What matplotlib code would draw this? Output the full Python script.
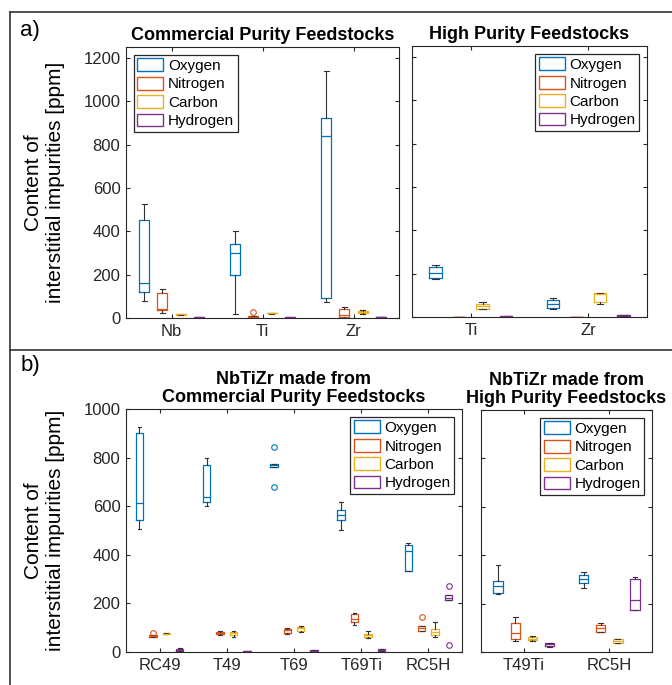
import numpy as np
import matplotlib
matplotlib.use("Agg")
import matplotlib.pyplot as plt
from matplotlib.patches import Patch
from matplotlib.lines import Line2D

plt.rcParams["font.family"] = ["Liberation Sans", "DejaVu Sans"]

# ----------------
# data (ppm) : each box is [whisker low, q1, median, q3, whisker high]
# ----------------
elements = ["Oxygen", "Nitrogen", "Carbon", "Hydrogen"]
colors = ["#0072BD", "#D95319", "#EDB120", "#7E2F8E"]

# a) feedstocks, commercial purity
comm_groups = ["Nb", "Ti", "Zr"]
comm_oxygen = [[80, 118, 161, 452, 526], [18, 198, 298, 341, 403], [75, 91, 840, 921, 1138]]
comm_nitrogen = [[22, 37, 41, 114, 134], [0, 1, 5, 9, 9], [2, 3, 14, 42, 49]]
comm_carbon = [[14, 15, 17, 18, 19], [20, 21, 23, 24, 25], [20, 22, 28, 34, 37]]
comm_hydrogen = [[1, 2, 3, 4, 4], [1, 2, 3, 4, 4], [2, 3, 4, 5, 5]]
comm_fliers = [[[], [], []], [[], [26], []], [[], [], []], [[], [], []]]

# a) feedstocks, high purity
high_groups = ["Ti", "Zr"]
high_oxygen = [[175, 181, 205, 231, 241], [37, 43, 62, 80, 88]]
high_nitrogen = [[0, 0, 1, 1, 2], [0, 0, 1, 1, 2]]
high_carbon = [[38, 38, 51, 62, 71], [58, 71, 105, 109, 112]]
high_hydrogen = [[2, 2, 3, 3, 4], [6, 6, 8, 10, 11]]
high_fliers = [[[], []], [[], []], [[], []], [[], []]]

# b) alloys from commercial purity feedstocks
alloy_comm_groups = ["RC49", "T49", "T69", "T69Ti", "RC5H"]
alloy_comm_oxygen = [[505, 543, 615, 903, 926], [599, 617, 638, 770, 797],
                     [760, 760, 768, 775, 775], [501, 543, 565, 584, 616],
                     [335, 335, 417, 442, 449]]
alloy_comm_nitrogen = [[60, 60, 64, 69, 69], [71, 73, 78, 83, 85], [74, 80, 89, 96, 99],
                       [112, 123, 137, 158, 160], [85, 88, 97, 106, 106]]
alloy_comm_carbon = [[73, 73, 75, 77, 78], [62, 69, 78, 83, 85], [84, 86, 97, 103, 106],
                     [58, 60, 69, 75, 86], [62, 71, 82, 95, 125]]
alloy_comm_hydrogen = [[3, 3, 8, 14, 15], [1, 1, 3, 4, 5], [3, 3, 5, 7, 8],
                       [5, 5, 9, 11, 12], [212, 212, 224, 233, 233]]
alloy_comm_fliers = [[[], [], [842, 680], [], []],
                     [[77], [], [], [], [143]],
                     [[], [], [], [], []],
                     [[], [], [], [], [273, 27]]]

# b) alloys from high purity feedstocks
alloy_high_groups = ["T49Ti", "RC5H"]
alloy_high_oxygen = [[241, 243, 274, 293, 358], [265, 285, 301, 318, 330]]
alloy_high_nitrogen = [[47, 55, 78, 120, 146], [84, 84, 99, 113, 118]]
alloy_high_carbon = [[45, 48, 55, 61, 67], [39, 39, 45, 52, 53]]
alloy_high_hydrogen = [[21, 26, 32, 37, 39], [172, 172, 216, 301, 309]]
alloy_high_fliers = [[[], []], [[], []], [[], []], [[], []]]

offsets = [-0.3, -0.1, 0.1, 0.3]
box_w = 0.11
spine_col = "#262626"


def draw_panel(ax, groups, series, fliers, ymax, ytick_step, show_ylabels, legend_loc):
    x = np.arange(1, len(groups) + 1)
    for k, (vals, fl, col) in enumerate(zip(series, fliers, colors)):
        stats = []
        for v, f in zip(vals, fl):
            stats.append(dict(whislo=v[0], q1=v[1], med=v[2], q3=v[3], whishi=v[4], fliers=f))
        ax.bxp(stats, positions=x + offsets[k], widths=box_w, capwidths=box_w * 0.5,
               showfliers=True, manage_ticks=False,
               boxprops=dict(color=col, linewidth=0.9),
               medianprops=dict(color=col, linewidth=0.9),
               whiskerprops=dict(color="#333333", linewidth=0.8),
               capprops=dict(color="#333333", linewidth=0.8),
               flierprops=dict(marker="o", markersize=4, markerfacecolor="none",
                               markeredgecolor=col, markeredgewidth=0.8))
    ax.set_xlim(0.5, len(groups) + 0.5)
    ax.set_ylim(0, ymax)
    ax.set_xticks(x)
    ax.set_xticklabels(groups)
    ax.set_yticks(np.arange(0, ymax + 1, ytick_step))
    if not show_ylabels:
        ax.set_yticklabels([])
    ax.tick_params(direction="in", length=3, width=0.8, top=True, right=True,
                   labelsize=12, colors=spine_col, pad=4)
    for s in ax.spines.values():
        s.set_color(spine_col)
        s.set_linewidth(0.8)
    handles = [Patch(facecolor="none", edgecolor=c, linewidth=1.0, label=e)
               for e, c in zip(elements, colors)]
    leg = ax.legend(handles=handles, loc=legend_loc, fontsize=11, fancybox=False,
                    framealpha=1, edgecolor=spine_col, handlelength=1.7, handleheight=0.9,
                    labelspacing=0.25, borderpad=0.25, handletextpad=0.3,
                    borderaxespad=0.5)
    leg.get_frame().set_linewidth(0.9)


fig = plt.figure(figsize=(6.72, 6.85), dpi=100)

ax_a1 = fig.add_axes([0.1875, 0.5358, 0.4063, 0.3956])
ax_a2 = fig.add_axes([0.6131, 0.5372, 0.3497, 0.3956])
ax_b1 = fig.add_axes([0.1875, 0.0482, 0.5000, 0.3547])
ax_b2 = fig.add_axes([0.7158, 0.0482, 0.2545, 0.3533])

draw_panel(ax_a1, comm_groups, [comm_oxygen, comm_nitrogen, comm_carbon, comm_hydrogen],
           comm_fliers, 1250, 200, True, "upper left")
draw_panel(ax_a2, high_groups, [high_oxygen, high_nitrogen, high_carbon, high_hydrogen],
           high_fliers, 1250, 200, False, "upper right")
draw_panel(ax_b1, alloy_comm_groups,
           [alloy_comm_oxygen, alloy_comm_nitrogen, alloy_comm_carbon, alloy_comm_hydrogen],
           alloy_comm_fliers, 1000, 200, True, "upper right")
draw_panel(ax_b2, alloy_high_groups,
           [alloy_high_oxygen, alloy_high_nitrogen, alloy_high_carbon, alloy_high_hydrogen],
           alloy_high_fliers, 1000, 200, False, "upper right")

title_kw = dict(fontsize=13, fontweight="bold", pad=5, linespacing=1.1)
ax_a1.set_title("Commercial Purity Feedstocks", **title_kw)
ax_a2.set_title("High Purity Feedstocks", **title_kw)
ax_b1.set_title("NbTiZr made from\nCommercial Purity Feedstocks", **title_kw)
ax_b2.set_title("NbTiZr made from\nHigh Purity Feedstocks", **title_kw)

ylab = "Content of\ninterstitial impurities [ppm]"
ax_a1.set_ylabel(ylab, fontsize=15, linespacing=1.25, labelpad=13)
ax_b1.set_ylabel(ylab, fontsize=15, linespacing=1.25, labelpad=13)

# panel labels and frame
fig.text(0.030, 0.955, "a)", fontsize=16, va="center", ha="left")
fig.text(0.030, 0.466, "b)", fontsize=16, va="center", ha="left")
frame_kw = dict(color="#333333", linewidth=1.2, transform=fig.transFigure)
fig.add_artist(Line2D([0.0149, 1.0], [0.9825, 0.9825], **frame_kw))
fig.add_artist(Line2D([0.0149, 0.0149], [0.0, 0.9825], **frame_kw))
fig.add_artist(Line2D([0.0149, 1.0], [0.489, 0.489], **frame_kw))

fig.savefig("out.png", dpi=100)
plt.close(fig)
